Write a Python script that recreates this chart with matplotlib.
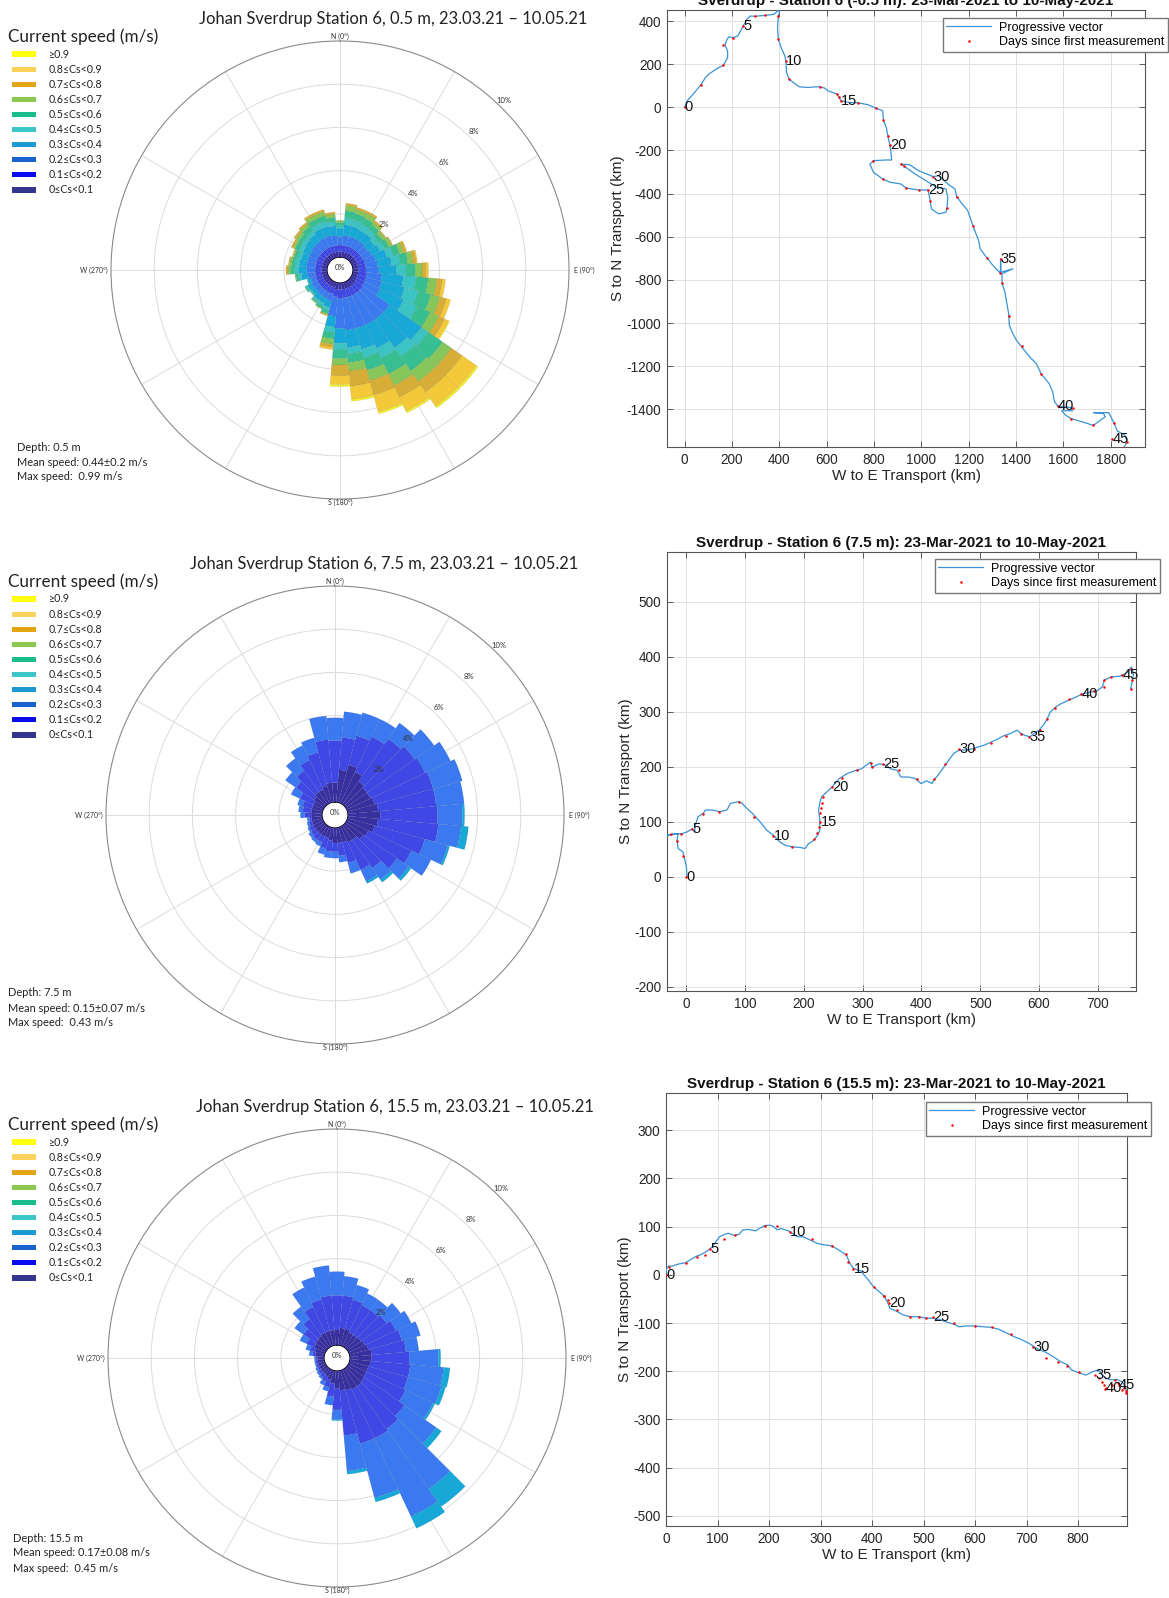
import numpy as np
import matplotlib
matplotlib.use('Agg')
import matplotlib.pyplot as plt
from matplotlib.patches import Rectangle
from matplotlib.lines import Line2D

plt.rcParams['font.family'] = ['Liberation Sans', 'DejaVu Sans']
plt.rcParams['axes.unicode_minus'] = False
ROSE_FONT = ['Lato', 'DejaVu Sans']

W, H = 1169, 1598

# ------------------------------------------------------------------ data
dir_deg = list(range(0, 360, 10))          # direction bins (centre, deg from N)
class_labels = ['0≤Cs<0.1', '0.1≤Cs<0.2', '0.2≤Cs<0.3', '0.3≤Cs<0.4', '0.4≤Cs<0.5',
                '0.5≤Cs<0.6', '0.6≤Cs<0.7', '0.7≤Cs<0.8', '0.8≤Cs<0.9', '≥0.9']
compass_labels = ['N (0°)', 'E (90°)', 'S (180°)', 'W (270°)']
ring_pct = [2, 4, 6, 8, 10]

# Rose 1 (0.5 m): frequency (%) per speed class for each direction bin
rose1 = [
    [0.25, 0.3, 0.4, 0.35, 0.15, 0.15, 0.1, 0, 0, 0],
    [0.25, 0.3, 0.45, 0.5, 0.3, 0.35, 0.25, 0.1, 0, 0],
    [0.25, 0.3, 0.45, 0.5, 0.3, 0.3, 0.2, 0.1, 0, 0],
    [0.25, 0.3, 0.45, 0.45, 0.3, 0.3, 0.25, 0.1, 0, 0],
    [0.25, 0.3, 0.45, 0.45, 0.25, 0.25, 0.15, 0.1, 0, 0],
    [0.25, 0.3, 0.4, 0.4, 0.25, 0.2, 0.15, 0.05, 0, 0],
    [0.25, 0.3, 0.45, 0.45, 0.25, 0.2, 0.15, 0.05, 0, 0],
    [0.25, 0.35, 0.5, 0.55, 0.3, 0.3, 0.2, 0.15, 0, 0],
    [0.25, 0.35, 0.55, 0.65, 0.4, 0.35, 0.25, 0.15, 0.05, 0],
    [0.25, 0.35, 0.6, 0.8, 0.45, 0.45, 0.3, 0.2, 0.1, 0],
    [0.25, 0.4, 0.7, 1.0, 0.6, 0.55, 0.4, 0.25, 0.15, 0],
    [0.25, 0.4, 0.75, 1.1, 0.65, 0.6, 0.45, 0.3, 0.2, 0],
    [0.25, 0.4, 0.8, 1.2, 0.7, 0.65, 0.45, 0.3, 0.2, 0.05],
    [0.3, 0.4, 1.5, 1.8, 0.4, 0.8, 0.5, 0.6, 0.8, 0.1],
    [0.3, 0.4, 1.5, 1.6, 0.5, 0.8, 0.6, 0.6, 0.8, 0.1],
    [0.3, 0.4, 1.5, 1.2, 0.5, 0.8, 0.6, 0.6, 0.7, 0.1],
    [0.3, 0.4, 1.5, 1.0, 0.4, 0.6, 0.5, 0.7, 0.8, 0.1],
    [0.3, 0.4, 1.5, 0.8, 0.3, 0.4, 0.4, 0.7, 0.6, 0.1],
    [0.3, 0.4, 1.4, 0.7, 0.3, 0.4, 0.3, 0.5, 0.4, 0.1],
    [0.3, 0.35, 0.9, 0.5, 0.25, 0.3, 0.25, 0.15, 0.1, 0],
    [0.25, 0.3, 0.35, 0.3, 0.15, 0.15, 0.05, 0.05, 0, 0],
    [0.25, 0.3, 0.3, 0.25, 0.15, 0.1, 0.05, 0, 0, 0],
    [0.25, 0.3, 0.3, 0.25, 0.1, 0.05, 0.05, 0, 0, 0],
    [0.25, 0.3, 0.25, 0.2, 0.05, 0.05, 0, 0, 0, 0],
    [0.25, 0.3, 0.3, 0.2, 0.1, 0.05, 0, 0, 0, 0],
    [0.25, 0.3, 0.25, 0.15, 0.05, 0, 0, 0, 0, 0],
    [0.25, 0.3, 0.35, 0.3, 0.15, 0.1, 0.05, 0, 0, 0],
    [0.25, 0.3, 0.4, 0.35, 0.2, 0.2, 0.1, 0.1, 0, 0],
    [0.25, 0.3, 0.4, 0.35, 0.2, 0.15, 0.1, 0.05, 0, 0],
    [0.25, 0.3, 0.4, 0.3, 0.2, 0.15, 0.05, 0.05, 0, 0],
    [0.25, 0.3, 0.4, 0.35, 0.2, 0.2, 0.1, 0.1, 0, 0],
    [0.25, 0.3, 0.45, 0.35, 0.2, 0.2, 0.15, 0.1, 0, 0],
    [0.25, 0.3, 0.45, 0.4, 0.2, 0.25, 0.15, 0.1, 0, 0],
    [0.25, 0.3, 0.5, 0.45, 0.25, 0.25, 0.2, 0.1, 0, 0],
    [0.25, 0.3, 0.5, 0.45, 0.25, 0.25, 0.2, 0.1, 0, 0],
    [0.25, 0.3, 0.45, 0.45, 0.2, 0.2, 0.15, 0.1, 0, 0],
]

# Rose 2 (7.5 m): cumulative boundaries (%) read per direction bin
r2_total = [3.9, 4.2, 4.3, 4.3, 4.6, 5.0, 5.3, 5.5, 5.4, 5.4, 5.6, 4.9, 4.3, 3.7, 3.2, 2.9, 2.2, 1.6,
            1.4, 1.4, 1.3, 1.0, 0.95, 0.9, 0.8, 0.75, 0.7, 1.0, 1.1, 1.2, 1.65, 2.2, 2.6, 2.95, 3.1, 4.0]
r2_c0_end = [0.9, 1.5, 1.8, 1.6, 1.3, 1.2, 1.2, 1.3, 1.4, 1.5, 1.4, 1.3, 1.1, 1.0, 0.8, 0.8, 0.7, 0.7,
             0.7, 0.6, 0.5, 0.5, 0.5, 0.5, 0.5, 0.5, 0.5, 0.5, 0.5, 0.5, 0.5, 0.6, 0.7, 0.7, 0.8, 0.9]
r2_c1_end = [2.85, 3.0, 3.2, 3.4, 3.7, 3.9, 4.0, 4.1, 4.1, 4.15, 4.2, 3.7, 3.3, 2.9, 2.4, 2.2, 1.7, 1.3,
             1.1, 1.1, 1.0, 0.8, 0.8, 0.75, 0.7, 0.65, 0.6, 0.8, 0.9, 0.95, 1.2, 1.6, 1.9, 2.2, 2.4, 2.9]
r2_c3 = [0, 0, 0, 0, 0, 0, 0, 0, 0, 0.1, 0.35, 0.1, 0, 0.15, 0.15, 0.1, 0, 0,
         0, 0, 0, 0, 0, 0, 0, 0, 0, 0, 0, 0, 0, 0, 0, 0, 0, 0]

# Rose 3 (15.5 m)
r3_total = [3.4, 3.2, 2.9, 2.7, 2.7, 3.0, 3.2, 3.4, 3.2, 4.2, 4.65, 4.6, 4.4, 5.3, 7.8, 8.1, 6.3, 4.8,
            2.3, 1.6, 1.0, 0.8, 0.6, 0.55, 0.5, 0.45, 0.45, 0.45, 0.7, 0.9, 1.3, 1.8, 2.3, 3.0, 3.3, 3.7]
r3_c0_end = [0.7, 0.8, 0.8, 0.7, 0.7, 0.75, 0.8, 0.9, 1.0, 1.0, 0.95, 0.9, 0.9, 0.95, 1.0, 1.0, 0.95, 0.9,
             0.8, 0.6, 0.45, 0.35, 0.3, 0.3, 0.3, 0.3, 0.3, 0.3, 0.4, 0.45, 0.55, 0.6, 0.65, 0.7, 0.7, 0.7]
r3_c1_end = [2.3, 2.3, 2.2, 2.1, 2.1, 2.2, 2.4, 2.5, 2.6, 2.75, 2.8, 2.8, 2.9, 3.2, 3.4, 3.5, 3.5, 3.0,
             1.8, 1.2, 0.8, 0.6, 0.5, 0.45, 0.4, 0.4, 0.4, 0.4, 0.55, 0.7, 0.95, 1.3, 1.6, 2.0, 2.2, 2.3]
r3_c3 = [0, 0, 0, 0, 0, 0, 0, 0, 0, 0.1, 0.3, 0.2, 0.1, 0.3, 1.0, 0.6, 0.2, 0.15,
         0.05, 0, 0, 0, 0, 0, 0, 0, 0, 0, 0, 0, 0, 0, 0, 0, 0, 0]

rose_depths = ['0.5', '7.5', '15.5']
rose_mean = ['0.44±0.2', '0.15±0.07', '0.17±0.08']
rose_max = ['0.99', '0.43', '0.45']

# Progressive vectors (km)
pv1_x = [0, 11, 34, 69, 90, 102, 133, 164, 182, 182, 171, 179, 187, 206, 225, 240, 248, 263, 278, 298,
         340, 378, 390, 396, 401, 396, 393, 396, 408, 424, 428, 431, 442, 469, 485, 523, 554, 573, 592,
         607, 645, 653, 661, 699, 733, 775, 809, 837, 840, 852, 859, 867, 872, 875, 852, 798, 783, 798,
         837, 867, 913, 936, 989, 1028, 1035, 1038, 1043, 1074, 1104, 1109, 1112, 1104, 1066, 1020, 974,
         928, 913, 951, 989, 1051, 1074, 1112, 1142, 1150, 1173, 1196, 1219, 1242, 1249, 1277, 1303,
         1334, 1335, 1337, 1387, 1341, 1341, 1353, 1369, 1372, 1387, 1402, 1433, 1464, 1486, 1506, 1540,
         1555, 1563, 1578, 1632, 1639, 1593, 1609, 1632, 1693, 1727, 1754, 1777, 1769, 1727, 1792, 1815,
         1828, 1861, 1869, 1854]
pv1_y = [0, 30, 58, 104, 141, 153, 177, 195, 230, 261, 289, 315, 326, 323, 331, 361, 377, 408, 423, 422,
         426, 431, 443, 454, 439, 423, 369, 315, 277, 238, 215, 161, 130, 107, 95, 92, 95, 95, 89,
         76, 61, 46, 30, 22, 21, 12, -4, -16, -59, -93, -132, -173, -209, -244, -244, -247, -263, -301,
         -332, -347, -355, -374, -383, -383, -417, -432, -471, -494, -486, -466, -417, -378, -371, -340, -309,
         -273, -263, -266, -294, -321, -317, -355, -378, -414, -448, -478, -551, -617, -656, -697, -733,
         -768, -702, -764, -748, -771, -814, -856, -956, -1010, -1049, -1079, -1123, -1164, -1187, -1234, -1280,
         -1318, -1365, -1385, -1391, -1406, -1406, -1426, -1442, -1462, -1474, -1452, -1434, -1418, -1415, -1415, -1465,
         -1500, -1519, -1549, -1580]
pv1_day_x = [0, 69, 164, 164, 206, 248, 298, 340, 396, 396, 428, 442, 573, 645, 653, 661, 733, 809, 840,
             859, 867, 798, 837, 936, 989, 1028, 1038, 1109, 913, 928, 1051, 1150, 1219, 1277, 1334, 1335,
             1341, 1369, 1425, 1506, 1578, 1639, 1632, 1727, 1815, 1807, 1869, 1854]
pv1_day_y = [0, 104, 195, 289, 323, 377, 422, 426, 423, 315, 215, 130, 95, 61, 46, 30, 21, -4, -59,
             -132, -173, -247, -332, -374, -383, -383, -432, -466, -263, -273, -321, -414, -551, -697, -768, -702,
             -814, -968, -1106, -1234, -1385, -1391, -1442, -1474, -1465, -1539, -1549, -1580]

pv2_x = [1, 0, -4, -6, -14, -16, -14, -20, -27, -33, -23, -8, 1, 10, 14, 15, 20, 29, 32, 44, 57, 69, 75,
         88, 94, 100, 112, 125, 137, 148, 159, 168, 180, 193, 202, 208, 217, 223, 227, 227, 225, 227, 230,
         239, 248, 260, 273, 288, 298, 313, 316, 328, 341, 347, 359, 365, 378, 390, 399, 409, 418, 421,
         430, 440, 446, 455, 464, 477, 489, 507, 526, 538, 551, 563, 569, 575, 585, 591, 600, 609, 614,
         619, 628, 637, 649, 662, 674, 686, 699, 708, 711, 723, 736, 742, 751, 757, 761, 756]
pv2_y = [0, 18, 36, 45, 51, 66, 78, 78, 75, 75, 77, 78, 81, 87, 81, 93, 109, 115, 121, 121, 118, 121, 133,
         136, 134, 127, 115, 100, 84, 75, 63, 57, 54, 53, 51, 60, 66, 75, 84, 103, 121, 134, 145,
         154, 163, 178, 187, 193, 196, 208, 199, 205, 202, 196, 193, 181, 181, 178, 169, 174, 169, 175,
         187, 202, 211, 224, 230, 230, 233, 239, 248, 255, 260, 266, 260, 257, 254, 260, 266, 278, 287,
         299, 308, 314, 320, 326, 332, 335, 338, 345, 357, 363, 364, 366, 372, 381, 369, 341]
pv2_day_x = [0, -6, -16, -9, -27, 10, 29, 55, 90, 115, 148, 179, 217, 223, 225, 228, 227, 229, 230, 233,
             248, 264, 291, 314, 315, 335, 362, 393, 421, 440, 464, 489, 519, 543, 569, 583, 601, 614, 628,
             651, 672, 694, 710, 711, 723, 742, 757, 759, 756]
pv2_day_y = [0, 38, 65, 78, 77, 87, 113, 118, 135, 109, 73, 53, 69, 80, 90, 99, 115, 124, 134, 145,
             163, 179, 194, 207, 199, 205, 193, 178, 178, 204, 231, 231, 242, 255, 260, 254, 266, 287, 307,
             323, 331, 337, 345, 357, 363, 366, 378, 357, 341]

pv3_x = [0, 1, 5, 12, 23, 38, 47, 60, 68, 75, 82, 90, 97, 104, 114, 121, 132, 142, 149, 160, 174, 181,
         192, 202, 209, 216, 223, 238, 255, 266, 280, 294, 308, 322, 336, 350, 357, 364, 378, 393, 403,
         414, 424, 431, 435, 445, 460, 474, 491, 505, 519, 534, 548, 562, 569, 583, 597, 618, 632, 646,
         660, 675, 689, 703, 713, 724, 738, 752, 766, 780, 787, 801, 815, 829, 840, 847, 854, 865, 875,
         886, 893, 894]
pv3_y = [0, 13, 18, 18, 22, 25, 31, 39, 42, 46, 51, 58, 69, 79, 84, 86, 82, 84, 93, 94, 91, 96,
         102, 103, 100, 93, 96, 91, 79, 79, 72, 65, 62, 60, 51, 41, 24, 13, 8, -11, -25,
         -35, -45, -59, -70, -74, -83, -87, -87, -90, -90, -94, -99, -104, -108, -106, -106, -108, -109, -113,
         -120, -128, -134, -141, -148, -155, -161, -170, -180, -187, -197, -203, -208, -201, -197, -208, -215, -218, -217,
         -222, -235, -246]
pv3_day_x = [0, 5, 38, 60, 75, 86, 113, 134, 192, 216, 241, 283, 322, 350, 354, 364, 403, 423, 424, 431,
             433, 449, 474, 491, 505, 518, 560, 600, 632, 670, 713, 738, 761, 778, 801, 833, 840, 846, 851,
             852, 854, 865, 872, 877, 886, 879, 889, 893, 894]
pv3_day_y = [0, 17, 25, 37, 42, 53, 75, 82, 102, 101, 89, 74, 60, 43, 27, 13, -25, -43, -45, -52,
             -58, -74, -87, -87, -90, -88, -101, -106, -109, -123, -149, -172, -180, -189, -201, -208, -215, -222, -228,
             -237, -235, -228, -219, -225, -239, -228, -235, -242, -246]

pv_titles = ['Sverdrup - Station 6 (-0.5 m): 23-Mar-2021 to 10-May-2021',
             'Sverdrup - Station 6 (7.5 m): 23-Mar-2021 to 10-May-2021',
             'Sverdrup - Station 6 (15.5 m): 23-Mar-2021 to 10-May-2021']

# ------------------------------------------------------------------ styles
bar_colors = ['#39309F', '#3F47E4', '#3B79F0', '#17A8D8', '#3CC4C4',
              '#37BF92', '#86C65A', '#D6AD36', '#F3C93A', '#F1EC2E']
legend_colors = ['#353590', '#0A0AEE', '#1A62CC', '#1A9AD0', '#3EC7C9',
                 '#19BD8C', '#8CC851', '#E3A514', '#FBD25C', '#FFFF10']

fig = plt.figure(figsize=(W / 100, H / 100), dpi=100)
fig.patch.set_facecolor('white')


def fx(x):
    return x / W


def fy(y):
    return 1 - y / H


def rose_matrix_from_bounds(total, c0_end, c1_end, c3):
    total = np.array(total); c0_end = np.array(c0_end); c1_end = np.array(c1_end); c3 = np.array(c3)
    m = np.zeros((36, 10))
    m[:, 0] = c0_end
    m[:, 1] = c1_end - c0_end
    m[:, 3] = c3
    m[:, 2] = total - c1_end - c3
    return m


def draw_rose(idx, cx, cy, mat):
    R = 229
    ax = fig.add_axes([fx(cx - R), fy(cy + R), 2 * R / W, 2 * R / H], projection='polar')
    ax.set_theta_zero_location('N')
    ax.set_theta_direction(-1)
    ax.set_rorigin(-0.6)
    ax.set_ylim(0, 10)
    ax.set_axisbelow(True)
    theta = np.deg2rad(dir_deg)
    width = np.deg2rad(10)
    mat = np.asarray(mat, dtype=float)
    bottom = np.zeros(len(dir_deg))
    for k in range(mat.shape[1]):
        vals = mat[:, k]
        mask = vals > 0
        if mask.any():
            ax.bar(theta[mask], vals[mask], width=width, bottom=bottom[mask],
                   color=bar_colors[k], edgecolor=(0, 0, 0, 0.10), linewidth=0.35, zorder=3)
        bottom += vals
    ax.set_yticks([2, 4, 6, 8])
    ax.set_yticklabels([])
    ax.set_xticks(np.deg2rad(np.arange(0, 360, 30)))
    ax.set_xticklabels([])
    ax.tick_params(axis='both', length=0)
    ax.grid(True, color='#dcdcdc', linewidth=0.7)
    ax.spines['polar'].set_color('#8a8a8a')
    ax.spines['polar'].set_linewidth(0.8)
    if 'inner' in ax.spines:
        ax.spines['inner'].set_visible(False)
    # compass labels just outside the outer circle
    kw = dict(fontsize=5, color='#333333', family=ROSE_FONT, transform=ax.transAxes)
    dR = 1.0 / (2 * R)
    ax.text(0.5, 1 + 5 * dR, compass_labels[0], ha='center', va='center', **kw)
    ax.text(1 + 5 * dR, 0.5, compass_labels[1], ha='left', va='center', **kw)
    ax.text(0.5, -3 * dR, compass_labels[2], ha='center', va='center', **kw)
    ax.text(-3 * dR, 0.5, compass_labels[3], ha='right', va='center', **kw)
    for p in ring_pct:
        ax.text(np.deg2rad(44), p + 0.3, f'{p}%', fontsize=5.5, ha='center', va='center',
                color='#333333', family=ROSE_FONT, zorder=5)
    ax.text(0.5, 0.505, '0%', transform=ax.transAxes, fontsize=5.5, ha='center', va='center',
            color='#333333', family=ROSE_FONT, zorder=5)

    # title
    tx = [393, 384, 395][idx]
    fig.text(fx(tx), fy(cy - 251), f'Johan Sverdrup Station 6, {rose_depths[idx]} m, 23.03.21 – 10.05.21',
             ha='center', va='center', fontsize=11.9, family=ROSE_FONT, color='#222222')
    # speed legend
    fig.text(fx(8), fy(cy - 233), 'Current speed (m/s)', ha='left', va='center',
             fontsize=12.3, family=ROSE_FONT, color='#222222')
    for j in range(10):
        k = 9 - j
        yc = cy - 216 + j * 15.1
        fig.add_artist(Rectangle((fx(12), fy(yc + 2.6)), 24 / W, 5.2 / H,
                                 transform=fig.transFigure, facecolor=legend_colors[k], edgecolor='none'))
        fig.text(fx(49), fy(yc), class_labels[k], ha='left', va='center', fontsize=7.7,
                 family=ROSE_FONT, color='#222222')
    # stats
    sx = [17, 8, 13][idx]
    off = [0, 1, 3][idx]
    stats = [f'Depth: {rose_depths[idx]} m', f'Mean speed: {rose_mean[idx]} m/s',
             f'Max speed:  {rose_max[idx]} m/s']
    for j, s in enumerate(stats):
        fig.text(fx(sx), fy(cy + 177 + off + 15 * j), s, ha='left', va='center', fontsize=7.9,
                 family=ROSE_FONT, color='#222222')


draw_rose(0, 340, 270, rose1)
draw_rose(1, 335, 815, rose_matrix_from_bounds(r2_total, r2_c0_end, r2_c1_end, r2_c3))
draw_rose(2, 337, 1358, rose_matrix_from_bounds(r3_total, r3_c0_end, r3_c1_end, r3_c3))


def draw_pv(idx, box, xlim, ylim, xticks, yticks, px, py, dx, dy, leg_box):
    x0, y0, x1, y1 = box
    ax = fig.add_axes([fx(x0), fy(y1), (x1 - x0) / W, (y1 - y0) / H])
    ax.plot(px, py, color='#3a93d6', lw=0.9, zorder=3)
    ax.plot(dx, dy, ls='none', marker='o', ms=1.8, color='red', mec='none', zorder=4)
    for d in range(0, len(dx), 5):
        ax.text(dx[d], dy[d], str(d), fontsize=10.5, ha='left', va='center', color='#111111', zorder=5)
    ax.set_xlim(*xlim)
    ax.set_ylim(*ylim)
    ax.set_xticks(xticks)
    ax.set_yticks(yticks)
    ax.grid(True, color='#e1e1e1', lw=0.7)
    ax.set_axisbelow(True)
    ax.tick_params(direction='in', top=True, right=True, length=4, width=0.6, colors='#444444',
                   labelsize=9.8, labelcolor='#262626', pad=4)
    for s in ax.spines.values():
        s.set_color('#555555'); s.set_linewidth(0.8)
    ax.set_title(pv_titles[idx], fontsize=11, fontweight='bold', pad=3.5, color='#111111')
    ax.set_xlabel('W to E Transport (km)', fontsize=11, color='#262626', labelpad=2)
    ax.set_ylabel('S to N Transport (km)', fontsize=11, color='#262626', labelpad=1)
    handles = [Line2D([], [], color='#3a93d6', lw=0.9),
               Line2D([], [], ls='none', marker='o', ms=1.8, color='red', mec='none')]
    lx1, ly0 = leg_box
    ax.legend(handles, ['Progressive vector', 'Days since first measurement'],
              loc='upper right', bbox_to_anchor=(fx(lx1), fy(ly0)), bbox_transform=fig.transFigure,
              borderaxespad=0, fontsize=9, frameon=True, fancybox=False, edgecolor='#777777',
              framealpha=1, handlelength=3.6, handletextpad=0.6, borderpad=0.3, labelspacing=0.2)
    return ax


draw_pv(0, (667, 10, 1145, 447), (-74, 1945), (-1574, 451), range(0, 1801, 200), range(-1400, 401, 200),
        pv1_x, pv1_y, pv1_day_x, pv1_day_y, (1168, 18))
draw_pv(1, (667, 552, 1136, 991), (-33, 765), (-208, 590), range(0, 701, 100), range(-200, 501, 100),
        pv2_x, pv2_y, pv2_day_x, pv2_day_y, (1160, 559))
draw_pv(2, (666, 1093, 1127, 1526), (0, 895), (-521, 377), range(0, 801, 100), range(-500, 301, 100),
        pv3_x, pv3_y, pv3_day_x, pv3_day_y, (1151, 1102))

fig.savefig('out.png', dpi=100, facecolor='white')
